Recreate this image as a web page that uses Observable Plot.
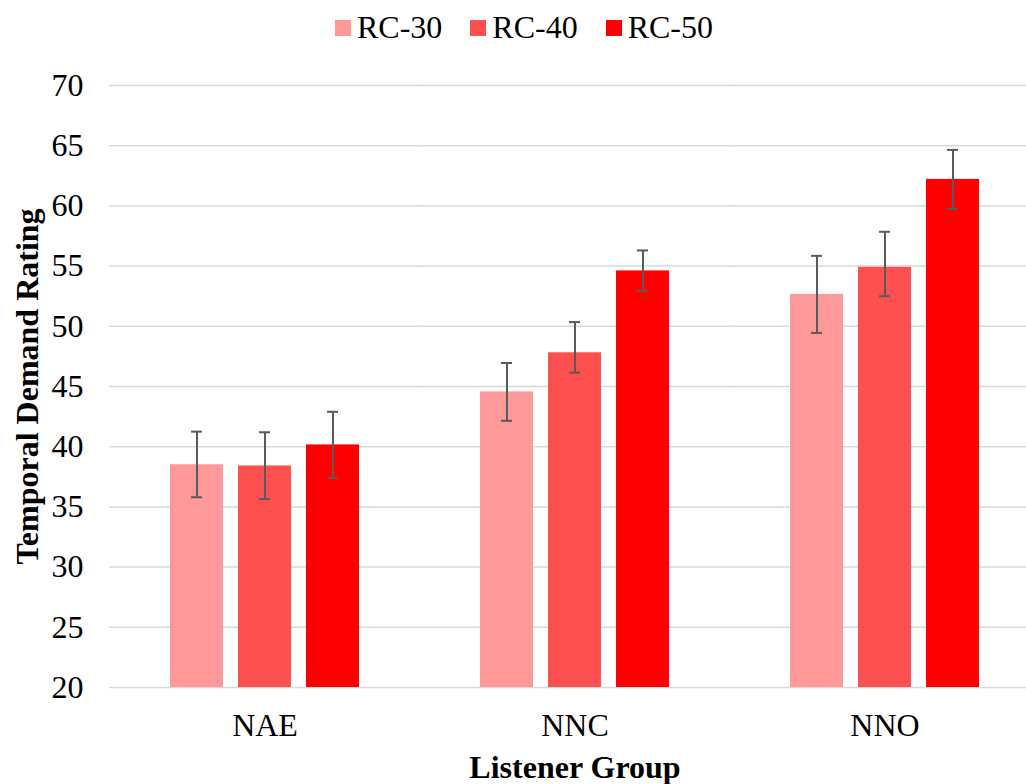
<!DOCTYPE html>
<html>
<head>
<meta charset="utf-8">
<script src="https://cdn.jsdelivr.net/npm/d3@7"></script>
<script src="https://cdn.jsdelivr.net/npm/@observablehq/plot@0.6"></script>
<style>
  html, body { margin: 0; padding: 0; background: #fff; overflow: hidden; }
  #legend { height: 55px; display: flex; justify-content: center; align-items: center; padding-left: 22px;
            font-family: "Liberation Serif", "Times New Roman", serif; font-size: 32px; color: #000; }
  .item { display: flex; align-items: center; margin: 0 14px; }
  .sw { width: 16px; height: 16px; margin-right: 6px; }
  #chart svg text { font-family: "Liberation Serif", "Times New Roman", serif; font-variant: normal; }
  #chart svg g[aria-label="y-axis label"] text,
  #chart svg g[aria-label="fx-axis label"] text { font-weight: bold; }
</style>
</head>
<body>
<div id="legend"></div>
<div id="chart"></div>
<script>
const groups = ["NAE", "NNC", "NNO"];
const series = ["RC-30", "RC-40", "RC-50"];
const colors = ["#FF9999", "#FF5050", "#FF0000"];
const rc30 = [38.5, 44.55, 52.65];
const rc40 = [38.4, 47.8, 54.9];
const rc50 = [40.15, 54.6, 62.2];
const lo30 = [35.8, 42.15, 49.45];
const hi30 = [41.25, 46.95, 55.85];
const lo40 = [35.65, 46.15, 52.5];
const hi40 = [41.2, 50.35, 57.85];
const lo50 = [37.4, 52.95, 59.75];
const hi50 = [42.9, 56.3, 64.65];
const yTicks = [20, 25, 30, 35, 40, 45, 50, 55, 60, 65, 70];

const vals = [rc30, rc40, rc50], los = [lo30, lo40, lo50], his = [hi30, hi40, hi50];
const data = [];
groups.forEach((g, gi) => series.forEach((s, si) => {
  data.push({group: g, series: s, value: vals[si][gi], lo: los[si][gi], hi: his[si][gi]});
}));

const legend = document.getElementById("legend");
series.forEach((s, i) => {
  const it = document.createElement("div"); it.className = "item";
  const sw = document.createElement("div"); sw.className = "sw"; sw.style.background = colors[i];
  const t = document.createElement("span"); t.textContent = s;
  it.appendChild(sw); it.appendChild(t); legend.appendChild(it);
});

const chart = Plot.plot({
  width: 1026,
  height: 729,
  marginLeft: 109,
  marginRight: -13,
  marginTop: 30,
  marginBottom: 97,
  style: {fontFamily: "'Liberation Serif', 'Times New Roman', serif", fontSize: "32px", color: "#000", background: "#fff"},
  fx: {domain: groups, paddingInner: 0.288, paddingOuter: 0.144, label: "Listener Group", labelAnchor: "center",
       axis: "bottom", tickSize: 0, tickPadding: 26, labelOffset: 90},
  x: {domain: series, paddingInner: 0.214, paddingOuter: 0.214, axis: null},
  y: {domain: [20, 70], ticks: yTicks, tickSize: 0, tickPadding: 71, label: "Temporal Demand Rating",
      labelAnchor: "center", labelOffset: 139, labelArrow: "none"},
  color: {domain: series, range: colors},
  marks: [
    Plot.ruleY(yTicks, {stroke: "#d9d9d9", strokeWidth: 1.5, insetLeft: -45, insetRight: -45}),
    Plot.barY(data, {fx: "group", x: "series", y1: 20, y2: "value", fill: "series"}),
    Plot.ruleX(data, {fx: "group", x: "series", y1: "lo", y2: "hi", stroke: "#5a5a5a", strokeWidth: 2}),
    Plot.tickY(data, {fx: "group", x: "series", y: "lo", stroke: "#5a5a5a", strokeWidth: 2, insetLeft: 21, insetRight: 21}),
    Plot.tickY(data, {fx: "group", x: "series", y: "hi", stroke: "#5a5a5a", strokeWidth: 2, insetLeft: 21, insetRight: 21})
  ]
});
document.getElementById("chart").appendChild(chart);
</script>
</body>
</html>
